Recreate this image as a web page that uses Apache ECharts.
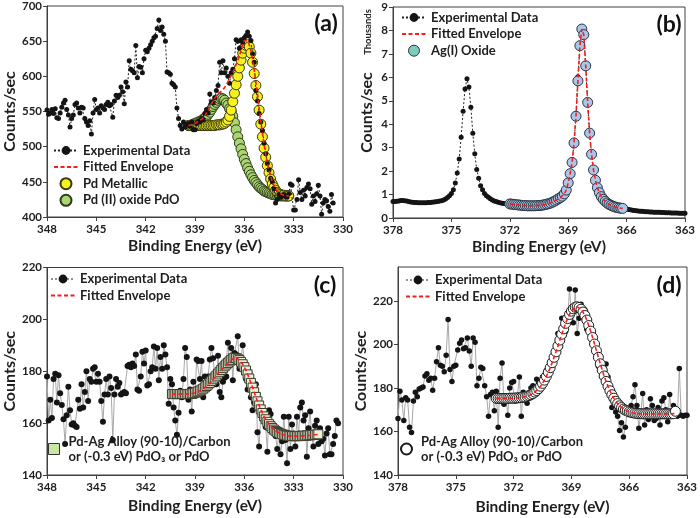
<!DOCTYPE html>
<html><head><meta charset="utf-8">
<script src="https://cdn.jsdelivr.net/npm/echarts@6/dist/echarts.min.js"></script>
<style>html,body{margin:0;padding:0;background:#fff}#c{width:700px;height:518px}</style>
</head><body><div id="c"></div>
<script>
// ---------- energy grids (eV) ----------
const gridA = [
348.0,347.9,347.8,347.7,347.6,347.5,347.4,347.3,347.2,347.1,
347.0,346.9,346.8,346.7,346.6,346.5,346.4,346.3,346.2,346.1,
346.0,345.9,345.8,345.7,345.6,345.5,345.4,345.3,345.2,345.1,
345.0,344.9,344.8,344.7,344.6,344.5,344.4,344.3,344.2,344.1,
344.0,343.9,343.8,343.7,343.6,343.5,343.4,343.3,343.2,343.1,
343.0,342.9,342.8,342.7,342.6,342.5,342.4,342.3,342.2,342.1,
342.0,341.9,341.8,341.7,341.6,341.5,341.4,341.3,341.2,341.1,
341.0,340.9,340.8,340.7,340.6,340.5,340.4,340.3,340.2,340.1,
340.0,339.9,339.8,339.7,339.6,339.5,339.4,339.3,339.2,339.1,
339.0,338.9,338.8,338.7,338.6,338.5,338.4,338.3,338.2,338.1,
338.0,337.9,337.8,337.7,337.6,337.5,337.4,337.3,337.2,337.1,
337.0,336.9,336.8,336.7,336.6,336.5,336.4,336.3,336.2,336.1,
336.0,335.9,335.8,335.7,335.6,335.5,335.4,335.3,335.2,335.1,
335.0,334.9,334.8,334.7,334.6,334.5,334.4,334.3,334.2,334.1,
334.0,333.9,333.8,333.7,333.6,333.5,333.4,333.3,333.2,333.1,
333.0,332.9,332.8,332.7,332.6,332.5,332.4,332.3,332.2,332.1,
332.0,331.9,331.8,331.7,331.6,331.5,331.4,331.3,331.2,331.1,
331.0,330.9,330.8,330.7,330.6,330.5,330.4,330.3];
const gridB = [
378.0,377.9,377.8,377.7,377.6,377.5,377.4,377.3,377.2,377.1,
377.0,376.9,376.8,376.7,376.6,376.5,376.4,376.3,376.2,376.1,
376.0,375.9,375.8,375.7,375.6,375.5,375.4,375.3,375.2,375.1,
375.0,374.9,374.8,374.7,374.6,374.5,374.4,374.3,374.2,374.1,
374.0,373.9,373.8,373.7,373.6,373.5,373.4,373.3,373.2,373.1,
373.0,372.9,372.8,372.7,372.6,372.5,372.4,372.3,372.2,372.1,
372.0,371.9,371.8,371.7,371.6,371.5,371.4,371.3,371.2,371.1,
371.0,370.9,370.8,370.7,370.6,370.5,370.4,370.3,370.2,370.1,
370.0,369.9,369.8,369.7,369.6,369.5,369.4,369.3,369.2,369.1,
369.0,368.9,368.8,368.7,368.6,368.5,368.4,368.3,368.2,368.1,
368.0,367.9,367.8,367.7,367.6,367.5,367.4,367.3,367.2,367.1,
367.0,366.9,366.8,366.7,366.6,366.5,366.4,366.3,366.2,366.1,
366.0,365.9,365.8,365.7,365.6,365.5,365.4,365.3,365.2,365.1,
365.0,364.9,364.8,364.7,364.6,364.5,364.4,364.3,364.2,364.1,
364.0,363.9,363.8,363.7,363.6,363.5,363.4,363.3,363.2,363.1,363.0];
const aFitE = [
339.4,339.3,339.2,339.1,339.0,338.9,338.8,338.7,338.6,338.5,
338.4,338.3,338.2,338.1,338.0,337.9,337.8,337.7,337.6,337.5,
337.4,337.3,337.2,337.1,337.0,336.9,336.8,336.7,336.6,336.5,
336.4,336.3,336.2,336.1,336.0,335.9,335.8,335.7,335.6,335.5,
335.4,335.3,335.2,335.1,335.0,334.9,334.8,334.7,334.6,334.5,
334.4,334.3,334.2,334.1,334.0,333.9,333.8,333.7,333.6,333.5,
333.4,333.3];
const bFitE = [
372.0,371.9,371.8,371.7,371.6,371.5,371.4,371.3,371.2,371.1,
371.0,370.9,370.8,370.7,370.6,370.5,370.4,370.3,370.2,370.1,
370.0,369.9,369.8,369.7,369.6,369.5,369.4,369.3,369.2,369.1,
369.0,368.9,368.8,368.7,368.6,368.5,368.4,368.3,368.2,368.1,
368.0,367.9,367.8,367.7,367.6,367.5,367.4,367.3,367.2,367.1,
367.0,366.9,366.8,366.7,366.6,366.5,366.4,366.3,366.2];
const cFitE = [
340.4,340.3,340.2,340.1,340.0,339.9,339.8,339.7,339.6,339.5,
339.4,339.3,339.2,339.1,339.0,338.9,338.8,338.7,338.6,338.5,
338.4,338.3,338.2,338.1,338.0,337.9,337.8,337.7,337.6,337.5,
337.4,337.3,337.2,337.1,337.0,336.9,336.8,336.7,336.6,336.5,
336.4,336.3,336.2,336.1,336.0,335.9,335.8,335.7,335.6,335.5,
335.4,335.3,335.2,335.1,335.0,334.9,334.8,334.7,334.6,334.5,
334.4,334.3,334.2,334.1,334.0,333.9,333.8,333.7,333.6,333.5,
333.4,333.3,333.2,333.1,333.0,332.9,332.8,332.7,332.6,332.5,
332.4,332.3,332.2,332.1,332.0,331.9,331.8,331.7,331.6,331.5];
const dFitE = [
372.9,372.8,372.7,372.6,372.5,372.4,372.3,372.2,372.1,372.0,
371.9,371.8,371.7,371.6,371.5,371.4,371.3,371.2,371.1,371.0,
370.9,370.8,370.7,370.6,370.5,370.4,370.3,370.2,370.1,370.0,
369.9,369.8,369.7,369.6,369.5,369.4,369.3,369.2,369.1,369.0,
368.9,368.8,368.7,368.6,368.5,368.4,368.3,368.2,368.1,368.0,
367.9,367.8,367.7,367.6,367.5,367.4,367.3,367.2,367.1,367.0,
366.9,366.8,366.7,366.6,366.5,366.4,366.3,366.2,366.1,366.0,
365.9,365.8,365.7,365.6,365.5,365.4,365.3,365.2,365.1,365.0,
364.9,364.8,364.7,364.6,364.5,364.4,364.3,364.2,364.1,364.0,
363.9,363.8,363.7,363.6];

// ---------- panel (a) Pd 3d ----------
const aExp = [
552,546,548,553,547,554,541,540,548,556,
562,566,553,545,528,540,545,560,562,555,
548,556,555,540,535,530,537,518,548,567,
553,555,548,558,555,553,560,563,558,560,
542,565,573,570,573,585,578,561,592,585,
622,610,608,605,644,598,614,613,605,625,
637,635,640,645,650,655,657,668,680,665,
670,660,650,606,605,603,590,588,585,555,
540,530,525,535,528,532,533,529,535,524,
524,533,536,535,540,538,547,553,548,575,
563,562,570,580,587,620,605,622,605,612,
600,590,605,610,625,652,650,640,652,648,
655,658,663,657,651,632,620,580,565,547,
535,523,505,490,476,467,455,450,440,420,
425,432,428,430,432,430,428,433,447,445,
410,410,425,453,435,425,438,430,442,447,
440,418,430,422,433,445,430,404,420,425,
423,415,408,432,420];
const aEnv = [
530,530,531,532,533,534,536,537,539,541,
544,548,552,557,561,565,569,572,575,577,
579,581,584,588,592,597,601,605,611,617,
623,629,637,645,651,652,650,645,636,624,
609,592,575,556,537,519,503,489,477,467,
458,450,445,440,437,435,433,432,431,431,
430,430];
const aPdMetal = [
530,530,530,530,530,530,530,530,530,530,
530,530,530,530,530,530,530,531,531,531,
532,532,533,535,538,543,552,564,576,588,
600,612,623,633,640,644,645,642,633,620,
604,587,571,552,532,514,498,485,473,463,
454,447,442,438,435,433,432,431,431,430,
430,430];
const aPdO = [
530,530,531,532,533,534,535,536,537,539,
541,543,546,549,553,557,560,563,566,568,
569,568,566,562,559,554,549,543,534,524,
514,505,497,489,482,476,470,465,460,456,
452,449,446,443,441,439,437,436,435,434,
433,432,432,431,431,431,430,430,430,430,
430,430];

// ---------- panel (b) Ag 3d (thousands) ----------
const bExp = [
0.70,0.70,0.71,0.73,0.75,0.75,0.74,0.72,0.70,0.68,
0.67,0.66,0.66,0.65,0.65,0.65,0.65,0.65,0.66,0.66,
0.67,0.68,0.69,0.70,0.72,0.74,0.77,0.81,0.87,0.95,
1.05,1.21,1.49,1.92,2.52,3.44,4.55,5.50,5.94,5.59,
4.72,3.62,2.74,2.07,1.70,1.38,1.20,1.05,0.95,0.88,
0.82,0.77,0.73,0.70,0.67,0.65,0.63,0.62,0.61,0.60,
0.60,0.59,0.58,0.57,0.56,0.55,0.54,0.53,0.53,0.52,
0.52,0.52,0.51,0.52,0.53,0.53,0.54,0.55,0.57,0.59,
0.61,0.64,0.68,0.72,0.77,0.82,0.87,0.93,1.03,1.19,
1.48,1.90,2.40,3.18,4.40,6.02,7.30,8.05,7.85,6.45,
4.90,3.60,2.70,2.05,1.60,1.28,1.08,0.91,0.80,0.71,
0.64,0.58,0.54,0.50,0.47,0.45,0.43,0.42,0.41,0.40,
0.38,0.36,0.35,0.33,0.32,0.31,0.30,0.29,0.29,0.28,
0.27,0.27,0.26,0.26,0.25,0.25,0.24,0.24,0.23,0.23,
0.22,0.22,0.22,0.21,0.21,0.21,0.21,0.20,0.20,0.20,0.20];
const bAgOxide = [
0.60,0.59,0.58,0.57,0.56,0.55,0.54,0.53,0.53,0.52,
0.52,0.52,0.52,0.52,0.53,0.53,0.54,0.55,0.57,0.59,
0.61,0.64,0.68,0.72,0.77,0.82,0.87,0.93,1.03,1.19,
1.50,1.89,2.37,3.20,4.34,5.85,7.35,8.06,7.82,6.49,
4.93,3.62,2.72,2.05,1.61,1.29,1.08,0.91,0.80,0.71,
0.64,0.58,0.54,0.50,0.47,0.45,0.43,0.42,0.41];
const bEnv = bAgOxide; // single component: envelope coincides with it

// ---------- panel (c) ----------
const cExp = [
178,161,169,162,177,179,168,178.5,171.5,167,
161.5,152,163,174,165,159.5,160,159,158.5,169,
165.5,175,166,172,180,168.5,177,176,181,181.5,
176,179,176,168.5,160.5,171,177,171,178,173.5,
153.5,171,177,174,175.5,171,171.5,172,171.5,182,
182.5,181.5,183,182,186.5,173,172.5,178,187.5,183,
188,174.5,175,180,181.5,189.5,181,189,176.5,185.5,
181,190,186.5,181.5,167.5,177,175,166,161,155.5,
164,172.5,170,177,189,185.5,169,173,164.5,176,
170.5,184.5,184,177,184,170,178,174,178,184.5,
189,185,178,175,186,172,170,176,177.5,178,
191,183,189,176.5,187,186.5,193.5,181,185,190,
183.5,177,173,179.5,170,165,168,175,156.5,151,
163,165,164.5,158.5,149,165,163.5,160,157.5,155,
150,156,148,153,162.5,153.5,144.5,162.5,150,159.5,
156,151,162.5,156,166,168,161,163,147,158,
164.5,155,151,159,161,152,158,153,154,147.5,
156,158,148,148,152,155,161,160];
const cFit = [
171.2,171.2,171.2,171.2,171.2,171.2,171.2,171.2,171.2,171.2,
171.2,171.3,171.4,171.5,171.7,171.9,172.2,172.5,172.9,173.3,
173.8,174.3,174.9,175.5,176.2,176.9,177.6,178.3,179.1,179.8,
180.5,181.2,181.9,182.6,183.2,183.8,184.3,185.0,185.2,185.1,
184.8,184.3,183.6,182.7,181.6,180.3,178.8,177.2,175.5,173.7,
171.9,170.1,168.4,166.8,165.3,163.9,162.6,161.5,160.5,159.6,
158.8,158.1,157.5,157.0,156.6,156.2,155.9,155.7,155.5,155.3,
155.2,155.1,155.0,155.0,155.0,155.0,155.0,155.0,155.0,155.1,
155.1,155.2,155.2,155.3,155.3,155.4,155.5,155.5,155.6,155.7];
const cEnv = cFit;

// ---------- panel (d) ----------
const dExp = [
166,178.5,174.5,165,175.5,174.5,162,159.5,174,178,
176,179.5,180,180.5,185.5,186.5,183.5,184.5,179,184.5,
192,198.5,190.5,190,187.5,195,211.5,188.5,183,190,
190.5,197.5,200.5,202,198,198.5,203,197,190,203,
201,181,184.5,189.5,189,181,176,167,177,178,
169.5,178.5,162,184.5,191.5,172.5,176,167.5,180,182.5,
183,174,176.5,185,167,178,174.5,173,176,180,
181,178,184,182,180,185,182.5,188,186,192,
189,195,198,205,199,212,204,206,210,225.5,
214,210,225,205,212,218.5,213,216,207,210,
203,205,201,197,190,193,185,183,191,185,
178,171,176,169,167,160.5,164,157.5,162,169,
170.5,172,176,181.5,172,161.5,168,177.5,163,170,
165.5,175,172,165,166,171,163,174,175.5,170,
164.5,177,168,172,169,167,189,167.5,167,167.5,167.5];
const dFit = [
175.2,175.2,175.2,175.2,175.2,175.2,175.2,175.3,175.3,175.3,
175.4,175.4,175.5,175.6,175.8,175.9,176.2,176.5,176.9,177.4,
178.1,178.8,179.7,180.8,182.1,183.6,185.3,187.2,189.3,191.6,
194.1,196.6,199.3,202.0,204.7,207.2,209.7,211.9,213.8,215.3,
216.4,217.1,217.3,217.0,216.2,214.9,213.3,211.2,208.7,206.1,
203.2,200.2,197.1,194.1,191.1,188.2,185.5,183.0,180.8,178.7,
176.9,175.3,173.9,172.8,171.8,171.0,170.3,169.8,169.4,169.0,
168.8,168.6,168.4,168.3,168.2,168.2,168.1,168.1,168.1,168.1,
168.1,168.1,168.1,168.1,168.1,168.1,168.1,168.1,168.1,168.1,
168.1,168.1,168.2,169.3];
const dEnv = dFit;

// ---------- labels ----------
const nameExp = 'Experimental Data';
const nameEnv = 'Fitted Envelope';
const namePd = 'Pd Metallic';
const namePdO = 'Pd (II) oxide PdO';
const nameAg = 'Ag(I) Oxide';
const nameAlloy = 'Pd-Ag Alloy (90-10)/Carbon\nor (-0.3 eV) PdO\u2083 or PdO';
const panelTags = ['(a)', '(b)', '(c)', '(d)'];

const pairs = (xs, ys) => ys.map((v, i) => [xs[i], v]);
const FONT = 'Lato, "DejaVu Sans", sans-serif';
const TXT = '#1e1e1e';

function xAx(g, min, max, gap) {
  return {type:'value', gridIndex:g, min:min, max:max, interval:3, inverse:true,
    axisLine:{show:true, onZero:false, lineStyle:{color:'#404040', width:1}},
    axisTick:{show:true, length:4, lineStyle:{color:'#404040'}},
    splitLine:{show:false},
    axisLabel:{fontFamily:FONT, fontWeight:'bold', fontSize:11.5, color:TXT, margin:6},
    name:'Binding Energy (eV)', nameLocation:'middle', nameGap:gap,
    nameTextStyle:{fontFamily:FONT, fontWeight:'bold', fontSize:15.5, color:TXT}};
}
function yAx(g, min, max, interval, gap, extra) {
  return Object.assign({type:'value', gridIndex:g, min:min, max:max, interval:interval,
    axisLine:{show:true, onZero:false, lineStyle:{color:'#404040', width:1}},
    axisTick:{show:true, length:4, lineStyle:{color:'#404040'}},
    splitLine:{show:false},
    axisLabel:{fontFamily:FONT, fontWeight:'bold', fontSize:11.5, color:TXT, margin:5},
    name:'Counts/sec', nameLocation:'middle', nameGap:gap,
    nameTextStyle:{fontFamily:FONT, fontWeight:'bold', fontSize:16, color:TXT}}, extra || {});
}
function expSeries(id, g, xs, ys, grey, size, z) {
  return {name:nameExp + '#' + id, type:'line', xAxisIndex:g, yAxisIndex:g, data:pairs(xs, ys),
    symbol:'circle', symbolSize:size, showSymbol:true, z:z,
    itemStyle:{color:'#141414'},
    lineStyle: grey ? {color:'#a8a8a8', width:1} : {color:'#222', width:1, type:[2,2]},
    emphasis:{disabled:true}};
}
function envSeries(id, g, xs, ys, z) {
  return {name:nameEnv + '#' + id, type:'line', xAxisIndex:g, yAxisIndex:g, data:pairs(xs, ys),
    symbol:'none', z:z, itemStyle:{color:'#ff1a1a'},
    lineStyle:{color:'#ff1a1a', width:1.6, type:[4,2.5]}, emphasis:{disabled:true}};
}
function markSeries(name, g, xs, ys, symbol, size, fill, border, z) {
  return {name:name, type:'scatter', xAxisIndex:g, yAxisIndex:g, data:pairs(xs, ys),
    symbol:symbol, symbolSize:size, z:z,
    itemStyle:{color:fill, borderColor:border, borderWidth:1, opacity:1}, emphasis:{disabled:true}};
}

const legText = {fontFamily:FONT, fontWeight:'bold', fontSize:13, color:TXT, lineHeight:15};
const expLegendLine = {color:'#222', width:1, type:[2,2]};
const envLegend = id => ({name:nameEnv + '#' + id, itemStyle:{opacity:0, color:'rgba(0,0,0,0)', borderWidth:0}});
function legend(left, top, data, extra) {
  return Object.assign({orient:'vertical', left:left, top:top, itemWidth:24, itemHeight:11, itemGap:1.6,
    selectedMode:false, padding:0, data:data, textStyle:legText,
    formatter:n => n.split('#')[0]}, extra || {});
}

const option = {
  animation:false,
  backgroundColor:'#fff',
  grid:[
    {left:47, top:6, width:296, height:211, show:true, borderColor:'#404040', borderWidth:1, backgroundColor:'rgba(0,0,0,0)'},
    {left:393, top:7, width:292, height:211, show:true, borderColor:'#404040', borderWidth:1, backgroundColor:'rgba(0,0,0,0)'},
    {left:47, top:267.5, width:296, height:207.5, show:true, borderColor:'#404040', borderWidth:1, backgroundColor:'rgba(0,0,0,0)'},
    {left:398, top:267, width:292, height:208, show:true, borderColor:'#404040', borderWidth:1, backgroundColor:'rgba(0,0,0,0)'}
  ],
  xAxis:[xAx(0,330,348,21), xAx(1,363,378,21), xAx(2,330,348,23), xAx(3,363,378,24)],
  yAxis:[
    yAx(0,400,700,50,28),
    yAx(1,0,9,1,18),
    yAx(2,140,220,20,27),
    yAx(3,140,235.6,20,25,{axisLabel:{fontFamily:FONT, fontWeight:'bold', fontSize:11.5, color:TXT, margin:5, showMaxLabel:false}})
  ],
  legend:[
    legend(53, 143, [{name:nameExp+'#a'}, envLegend('a'), {name:namePd}, {name:namePdO}]),
    legend(401, 10, [{name:nameExp+'#b'}, envLegend('b'), {name:nameAg, itemStyle:{color:'#7fcbbf', borderColor:'#333', borderWidth:1}}]),
    legend(50, 271.5, [{name:nameExp+'#c', lineStyle:expLegendLine}, envLegend('c')]),
    legend(48, 426.5, [{name:nameAlloy+'#c', itemStyle:{color:'#c8e6a4', borderColor:'#333', borderWidth:1}}],
      {itemWidth:11, itemHeight:11, textStyle:Object.assign({}, legText, {padding:[15,0,0,4]})}),
    legend(405, 272.5, [{name:nameExp+'#d', lineStyle:expLegendLine}, envLegend('d')]),
    legend(400, 426.5, [{name:nameAlloy+'#d'}],
      {itemWidth:11, itemHeight:11, textStyle:Object.assign({}, legText, {padding:[15,0,0,4]})})
  ],
  graphic:[
    {type:'text', x:326, y:24, style:{text:panelTags[0], font:'bold 23px ' + FONT, fill:'#111', textAlign:'center', textVerticalAlign:'middle'}},
    {type:'text', x:669, y:25, style:{text:panelTags[1], font:'bold 23px ' + FONT, fill:'#111', textAlign:'center', textVerticalAlign:'middle'}},
    {type:'text', x:325, y:286, style:{text:panelTags[2], font:'bold 23px ' + FONT, fill:'#111', textAlign:'center', textVerticalAlign:'middle'}},
    {type:'text', x:669, y:286, style:{text:panelTags[3], font:'bold 23px ' + FONT, fill:'#111', textAlign:'center', textVerticalAlign:'middle'}},
    {type:'text', x:368, y:32, rotation:Math.PI/2, style:{text:'Thousands', font:'bold 9.5px ' + FONT, fill:'#222', textAlign:'center', textVerticalAlign:'middle'}}
  ],
  series:[
    markSeries(namePdO, 0, aFitE, aPdO, 'circle', 10, '#a9d66f', '#2e3a1e', 2),
    markSeries(namePd, 0, aFitE, aPdMetal, 'circle', 10, '#f7f21e', '#3a3a10', 3),
    expSeries('a', 0, gridA, aExp, false, 5, 4),
    envSeries('a', 0, aFitE, aEnv, 5),

    expSeries('b', 1, gridB, bExp, false, 5, 2),
    markSeries(nameAg, 1, bFitE, bAgOxide, 'circle', 10, '#a9c7ea', '#2a3340', 3),
    envSeries('b', 1, bFitE, bEnv, 4),

    expSeries('c', 2, gridA, cExp, true, 6, 2),
    markSeries(nameAlloy + '#c', 2, cFitE, cFit, 'rect', 9, '#efeedb', '#3c3c2c', 3),
    envSeries('c', 2, cFitE, cEnv, 4),

    expSeries('d', 3, gridB, dExp, true, 5.5, 2),
    markSeries(nameAlloy + '#d', 3, dFitE, dFit, 'circle', 10, '#ffffff', '#1a1a1a', 3),
    envSeries('d', 3, dFitE, dEnv, 4)
  ]
};
echarts.init(document.getElementById('c'), null, {renderer:'canvas'}).setOption(option);
</script>
</body></html>
